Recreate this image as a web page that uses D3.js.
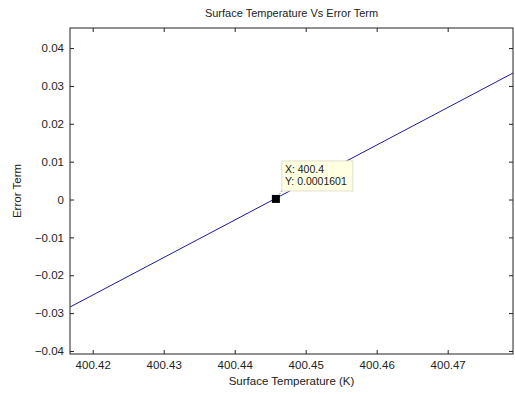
<!DOCTYPE html>
<html>
<head>
<meta charset="utf-8">
<script src="https://cdn.jsdelivr.net/npm/d3@7"></script>
<style>
body { margin: 0; background: #fff; }
svg text { font-family: "Liberation Sans", Arial, sans-serif; fill: #222; }
.axis path, .axis line { stroke: #222; }
</style>
</head>
<body>
<div class="container"></div>
<script>
// line data: surface temperature (K) vs error term
var temps = [400.4168, 400.4792];
var errors = [-0.0284, 0.0334];
// data tip
var tipX = [400.4458];
var tipY = [0.0001601];
var tipText = ['X: 400.4', 'Y: 0.0001601'];
var xTicks = [400.42, 400.43, 400.44, 400.45, 400.46, 400.47];
var yTicks = [-0.04, -0.03, -0.02, -0.01, 0, 0.01, 0.02, 0.03, 0.04];

const WIDTH = 515;
const HEIGHT = 394;
const LEFT = 70, RIGHT = 513, TOP = 28, BOTTOM = 354;

var translate = function(x, y){
	return "translate(" + x + "," + y + ")";
};

var svg = d3.select('.container').append('svg')
	.attr('width', WIDTH)
	.attr('height', HEIGHT);

var xScale = d3.scaleLinear()
	.domain([400.4168, 400.4792])
	.range([LEFT, RIGHT]);

var yScale = d3.scaleLinear()
	.domain([-0.0408, 0.0453])
	.range([BOTTOM, TOP]);

var fmtY = function(d){ return d === 0 ? '0' : d3.format('.2f')(d); };

// box
svg.append('rect')
	.attr('x', LEFT).attr('y', TOP)
	.attr('width', RIGHT - LEFT).attr('height', BOTTOM - TOP)
	.attr('fill', '#fff').attr('stroke', '#222');

var xAxis = d3.axisBottom(xScale).tickValues(xTicks).tickSizeInner(-4).tickSizeOuter(0)
	.tickPadding(7).tickFormat(d3.format('.2f'));
var xAxisTop = d3.axisTop(xScale).tickValues(xTicks).tickSizeInner(-4).tickSizeOuter(0).tickFormat('');
var yAxis = d3.axisLeft(yScale).tickValues(yTicks).tickSizeInner(-4).tickSizeOuter(0)
	.tickPadding(6).tickFormat(fmtY);
var yAxisRight = d3.axisRight(yScale).tickValues(yTicks).tickSizeInner(-4).tickSizeOuter(0).tickFormat('');

svg.append('g').classed('axis', true).attr('transform', translate(0, BOTTOM)).call(xAxis);
svg.append('g').classed('axis', true).attr('transform', translate(0, TOP)).call(xAxisTop);
svg.append('g').classed('axis', true).attr('transform', translate(LEFT, 0)).call(yAxis);
svg.append('g').classed('axis', true).attr('transform', translate(RIGHT, 0)).call(yAxisRight);

svg.selectAll('.axis path').remove();
svg.selectAll('.axis text').attr('font-size', 11.5).attr('font-family', '"Liberation Sans", Arial, sans-serif').attr('fill', '#222');

svg.append('clipPath').attr('id', 'clip')
	.append('rect').attr('x', LEFT).attr('y', TOP)
	.attr('width', RIGHT - LEFT).attr('height', BOTTOM - TOP);

var pts = temps.map(function(t, i){ return [t, errors[i]]; });
var line = d3.line()
	.x(function(p){ return xScale(p[0]); })
	.y(function(p){ return yScale(p[1]); });

svg.append('path')
	.attr('clip-path', 'url(#clip)')
	.attr('d', line(pts))
	.attr('fill', 'none')
	.attr('stroke', '#1a1a9c')
	.attr('stroke-width', 1);

// data tip
var mx = xScale(tipX[0]), my = yScale(tipY[0]);
var bx = mx + 6, by = my - 38;
svg.append('line')
	.attr('x1', mx).attr('y1', my).attr('x2', bx).attr('y2', by + 30)
	.attr('stroke', '#555').attr('stroke-dasharray', '1,2');
svg.append('rect')
	.attr('x', bx).attr('y', by).attr('width', 71).attr('height', 30)
	.attr('fill', '#ffffe2').attr('stroke', '#e0e0c8');
svg.append('g').selectAll('text').data(tipText).enter().append('text')
	.attr('x', bx + 3).attr('y', function(d, i){ return by + 12 + i * 12; })
	.attr('font-size', 10.5)
	.text(function(d){ return d; });
svg.append('rect')
	.attr('x', mx - 4).attr('y', my - 4).attr('width', 8).attr('height', 8)
	.attr('fill', '#000');

// labels
svg.append('text')
	.attr('x', (LEFT + RIGHT) / 2).attr('y', 17)
	.attr('text-anchor', 'middle').attr('font-size', 11)
	.text('Surface Temperature Vs Error Term');
svg.append('text')
	.attr('x', (LEFT + RIGHT) / 2).attr('y', 385)
	.attr('text-anchor', 'middle').attr('font-size', 11.5)
	.text('Surface Temperature (K)');
svg.append('text')
	.attr('transform', translate(21, (TOP + BOTTOM) / 2) + ' rotate(-90)')
	.attr('text-anchor', 'middle').attr('font-size', 11.5)
	.text('Error Term');
</script>
</body>
</html>
